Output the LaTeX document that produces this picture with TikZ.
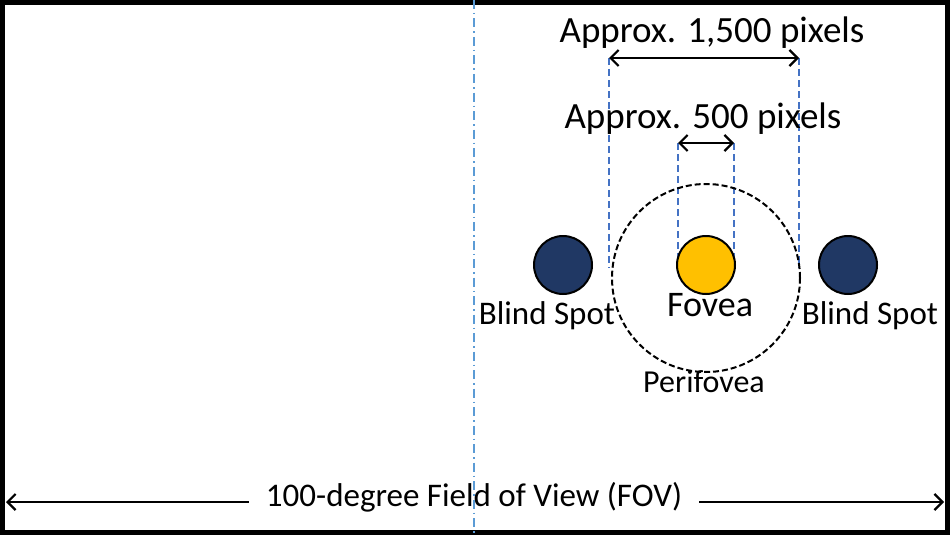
\documentclass[tikz,border=0pt]{standalone}
\usepackage{fontspec}
\setmainfont{Carlito}
\usetikzlibrary{arrows.meta}
\definecolor{navy}{HTML}{203864}
\definecolor{gold}{HTML}{FFC000}
\definecolor{lblue}{HTML}{5B9BD5}
\definecolor{dblue}{HTML}{4472C4}
\begin{document}
\begin{tikzpicture}[x=1pt,y=-1pt,
  lbl/.style={inner sep=0pt, anchor=center},
  tip/.style={Straight Barb[length=8pt,width=16pt]},
  dim/.style={line width=2.2pt, {Straight Barb[length=8pt,width=16pt]}-{Straight Barb[length=8pt,width=16pt]}},
  guide/.style={dblue, line width=2.2pt, dash pattern=on 7pt off 4pt},
  spot/.style={circle, draw=black, line width=2pt, minimum size=58pt, inner sep=0pt}]
\useasboundingbox (0,0) rectangle (950,535);
\draw[line width=5pt] (2.5,2.5) rectangle (947,532.5);
% FOV arrow
\node[lbl, font=\fontsize{33}{33}\selectfont, inner xsep=17pt] (fov) at (474,497) {100-degree Field of View (FOV)};
\coordinate (fl) at (6,502);
\coordinate (fr) at (944,502);
\draw[line width=2.2pt, {Straight Barb[length=8pt,width=16pt]}-] (fl) -- (fl -| fov.west);
\draw[line width=2.2pt, -{Straight Barb[length=8pt,width=16pt]}] (fr -| fov.east) -- (fr);
% centre line
\coordinate (ct) at (474,0);
\coordinate (cb) at (474,535);
\draw[lblue, line width=2pt, dash pattern=on 9pt off 4pt on 1.5pt off 4pt] (ct) -- (cb);
% guides
\coordinate (a1) at (609,58);
\coordinate (a2) at (799,58);
\coordinate (b1) at (678,143);
\coordinate (b2) at (734,143);
\coordinate (a1e) at (609,268);
\coordinate (a2e) at (799,268);
\coordinate (b1e) at (678,262);
\coordinate (b2e) at (734,262);
\draw[guide] (a1) -- (a1e);
\draw[guide] (a2) -- (a2e);
\draw[guide] (b1) -- (b1e);
\draw[guide] (b2) -- (b2e);
\draw[dim] (a1) -- (a2);
\draw[dim] (b1) -- (b2);
\node[lbl, font=\fontsize{37}{37}\selectfont] (t1) at (712,33) {Approx. 1,500 pixels};
\node[lbl, font=\fontsize{37}{37}\selectfont] (t2) at (703,119) {Approx. 500 pixels};
% perifovea
\node[circle, draw=black, line width=2pt, dash pattern=on 6pt off 3pt, minimum size=188pt, inner sep=0pt] (peri) at (706,278) {};
% spots
\node[spot, fill=navy] (bl) at (563,265) {};
\node[spot, fill=gold] (fov2) at (706,265) {};
\node[spot, fill=navy] (br) at (848,265) {};
\node[lbl, font=\fontsize{33}{33}\selectfont] (blt) at (547,316) {Blind Spot};
\node[lbl, font=\fontsize{33}{33}\selectfont] (brt) at (870,316) {Blind Spot};
\node[lbl, font=\fontsize{36}{36}\selectfont] (fvt) at (710,305) {Fovea};
\node[lbl, font=\fontsize{32}{32}\selectfont] (pft) at (704,382) {Perifovea};
\end{tikzpicture}
\end{document}
